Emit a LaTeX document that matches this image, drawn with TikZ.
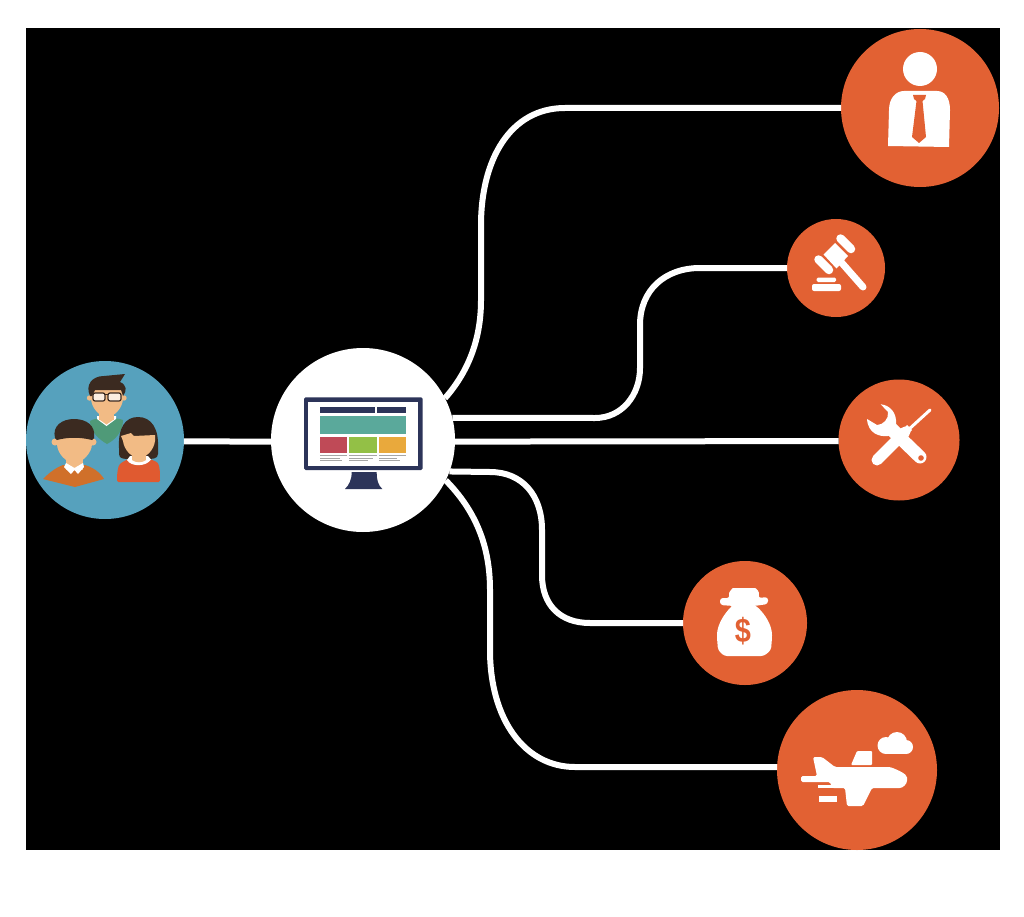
\documentclass[tikz,border=0pt]{standalone}
\usepackage{fontspec}
\setmainfont{Liberation Sans}
\definecolor{disc}{HTML}{E26133}
\definecolor{peoplebg}{HTML}{56A1BD}
\definecolor{skin}{HTML}{F2BB85}
\definecolor{hair}{HTML}{3B2A20}
\definecolor{shirtg}{HTML}{4F9A78}
\definecolor{shirto}{HTML}{D0702A}
\definecolor{shirtr}{HTML}{E05A30}
\definecolor{navy}{HTML}{2C3459}
\definecolor{teal2}{HTML}{5AA99B}
\definecolor{redb}{HTML}{BF4A57}
\definecolor{greenb}{HTML}{93C046}
\definecolor{yellb}{HTML}{E9A93C}
\tikzset{
  disk/.style={circle,inner sep=0pt,outer sep=0pt,fill=disc,minimum size=#1},
  link/.style={draw=white,line width=6pt,line join=round},
  ico/.style={fill=white,draw=none},
  stroke/.style={draw=white,line cap=round,line width=#1},
}
\begin{document}
\begin{tikzpicture}[x=1pt,y=-1pt]
\useasboundingbox (0,0) rectangle (1024,917);
\fill[white] (0,0) rectangle (1024,917);
\fill[black] (26,28) rectangle (1000,850);

% nodes
\node[disk=158pt,fill=peoplebg] (people) at (105,440) {};
\node[disk=184pt,fill=white] (hub) at (363,440) {};
\node[disk=158pt] (person) at (920,108) {};
\node[disk=98pt] (gavel) at (836,268) {};
\node[disk=121pt] (tools) at (899,440) {};
\node[disk=124pt] (money) at (745,623) {};
\node[disk=160pt] (plane) at (857,770) {};

% connectors
\draw[link] (people.-1.5) -- (hub.181.2);
\draw[link] (hub.27) .. controls (468,372) and (481,340) .. (481,300) -- (481,225)
  .. controls (481,160) and (510,108) .. (565,108) -- (person.west);
\draw[link] (hub.14) -- (595,418) .. controls (622,418) and (640,395) .. (640,368) -- (640,325)
  .. controls (640,290) and (665,268) .. (700,268) -- (gavel.west);
\draw[link] (hub.-1.2) -- (tools.181.9);
\draw[link] (hub.-20) -- (490,472) .. controls (522,472) and (542,495) .. (542,530) -- (542,575)
  .. controls (542,605) and (560,623) .. (590,623) -- (money.west);
\draw[link] (hub.-26) .. controls (475,510) and (490,545) .. (490,590) -- (490,650)
  .. controls (490,720) and (525,767) .. (575,767) -- (plane.178);

% people: man with glasses (back)
\fill[shirtg] (90,421) .. controls (96,417) and (116,417) .. (123,420) .. controls (123,432) and (115,440) .. (107,444) .. controls (100,440) and (90,432) .. (90,421) -- cycle;
\fill[white] (97,419) -- (106.5,426) -- (116,419) -- (116,416) -- (97,416) -- cycle;
\fill[skin] (99,408) rectangle (114,420);
\fill[skin] (100,420) -- (113,420) -- (106.5,424.5) -- cycle;
\fill[skin] (89.5,398) circle (2.7);
\fill[skin] (124,398) circle (2.7);
\fill[skin] (91,386) -- (123,386) -- (123,398) .. controls (123,408) and (114,417) .. (107,417) .. controls (100,417) and (91,408) .. (91,398) -- cycle;
\fill[hair] (90,396) .. controls (85,385) and (92,376) .. (104,376) -- (125,374) -- (120,382) .. controls (127,385) and (127,391) .. (123,396) -- (121,390) -- (95,390) -- (92,396) -- cycle;
\fill[white!75!skin,rounded corners=2pt] (93,393) rectangle (105,401);
\fill[white!75!skin,rounded corners=2pt] (108,393) rectangle (121,401);
\draw[hair,line width=1.2pt,rounded corners=2pt] (93,393) rectangle (105,401);
\draw[hair,line width=1.2pt,rounded corners=2pt] (108,393) rectangle (121,401);
\draw[hair,line width=1.2pt] (105,394.5) -- (108,394.5);

% people: man front left
\fill[shirto] (43,479) .. controls (52,470) and (58,467) .. (63,465) -- (85,465) .. controls (92,467) and (100,472) .. (104,479) -- (75,487) -- cycle;
\fill[skin] (66,455) rectangle (83,470);
\fill[white] (64,467) -- (66,463) -- (74.5,468) -- (83,463) -- (84,467) -- (78,474) -- (74.5,470) -- (71,474) -- cycle;
\fill[skin] (55,442) circle (3.5);
\fill[skin] (93,442) circle (3.5);
\fill[skin] (57,430) -- (92,430) -- (92,444) .. controls (92,453) and (82,463) .. (74.5,463) .. controls (66,463) and (57,453) .. (57,444) -- cycle;
\fill[hair] (55,438) .. controls (52,426) and (62,419) .. (74,419) .. controls (87,419) and (96,426) .. (94,438) -- (92,440) .. controls (80,437) and (68,437) .. (57,440) -- cycle;

% people: woman
\fill[hair] (119,448) .. controls (118,428) and (125,417) .. (138,417) .. controls (151,417) and (159,428) .. (158,448) -- (158,454) .. controls (158,459) and (152,459) .. (147,459) -- (130,459) .. controls (124,459) and (119,459) .. (119,454) -- cycle;
\fill[shirtr,rounded corners=1.5pt] (117,482) .. controls (117,472) and (118,466) .. (121,463) -- (128,459) -- (150,459) -- (157,462) .. controls (160,466) and (160,474) .. (160,482) -- cycle;
\fill[white] (127,460) .. controls (131,467) and (146,467) .. (151,459.5) -- (148,456) -- (130,456) -- cycle;
\fill[skin] (132,450) rectangle (146,460);
\fill[skin] (132,460) .. controls (136,463) and (142,463) .. (146,460) -- cycle;
\fill[skin] (121,436) -- (131,433) -- (134,436) -- (155,435) -- (155,441) .. controls (154,450) and (146,458) .. (139,458) .. controls (132,458) and (124,450) .. (123,441) -- cycle;

% monitor
\fill[navy,rounded corners=1.5pt] (304,397.3) rectangle (422.7,470);
\fill[white] (308.3,402.3) rectangle (418.3,465.7);
\fill[navy] (320,406.7) rectangle (375,412.7);
\fill[navy] (377.3,406.7) rectangle (406,412.7);
\fill[teal2] (320,415.7) rectangle (406,434.3);
\fill[redb] (320,436.7) rectangle (347,453.3);
\fill[greenb] (349.3,436.7) rectangle (376.7,453.3);
\fill[yellb] (379,436.7) rectangle (406,453.3);
\fill[gray!70] (320,455) rectangle (347,456.3);
\fill[gray!70] (349.3,455) rectangle (376.7,456.3);
\fill[gray!70] (379,455) rectangle (406,456.3);
\fill[gray!70] (320,457.8) rectangle (340,458.8);
\fill[gray!70] (349.3,457.8) rectangle (373,458.8);
\fill[gray!70] (379,457.8) rectangle (397,458.8);
\fill[gray!70] (320,460) rectangle (342,461);
\fill[gray!70] (349.3,460) rectangle (368,461);
\fill[gray!70] (379,460) rectangle (400,461);
\fill[navy] (351.7,472) -- (376.7,472) .. controls (376.7,480) and (378,485) .. (382.3,489) -- (345,489) .. controls (349,485) and (351.7,480) .. (351.7,472) -- cycle;

% person icon
\fill[ico] (920,69) circle (17);
\fill[ico] (888,146) -- (889,110) .. controls (889,98) and (896,91) .. (904,91) -- (937,91) .. controls (945,91) and (950,98) .. (950,110) -- (949,147) -- cycle;
\fill[disc] (913,95) -- (926,95) -- (925,99) -- (922.5,101) -- (926,137) -- (919,143) -- (912,137) -- (916.5,101) -- (914,99) -- cycle;

% gavel icon
\draw[stroke=7pt] (841,262) -- (863,287);
\fill[ico] (823.5,254.5) -- (835,243) -- (848,256) -- (836.5,268.5) -- cycle;
\draw[stroke=8.5pt] (818.5,259.5) -- (829,270);
\draw[stroke=8.5pt] (840.5,238.5) -- (851,249);
\fill[ico,rounded corners=2pt] (812,284) rectangle (841,291);
\fill[ico,rounded corners=1.5pt] (816.5,277.5) rectangle (836,282);

% tools icon
\draw[stroke=11pt] (877,460) -- (905,432);
\fill[ico] (907,425) -- (912,430) -- (907,435) -- (902,430) -- cycle;
\draw[stroke=3pt] (907,431) -- (930,410);
\draw[stroke=13pt] (890,428) -- (920,457);
\fill[ico] (880.7,404.3) .. controls (890,405) and (897,413) .. (896,424) -- (902,430) -- (888,436)
  .. controls (880,437) and (868,434) .. (867,419) -- (877,425)
  .. controls (883,425) and (889,419) .. (888,412) -- cycle;
\fill[disc] (921,458) circle (2.8);

% money icon
\fill[ico,rounded corners=3pt] (733,605) -- (755,605) .. controls (765,614) and (772,625) .. (772,638) -- (771,650) -- (764,656) -- (724,656) -- (718,650) -- (717,638) .. controls (717,625) and (724,614) .. (733,605) -- cycle;
\fill[ico,rounded corners=3pt] (730,598) .. controls (728,592) and (733,588) .. (736,588) -- (752,588) .. controls (756,588) and (760,592) .. (758,598) -- (768,597) -- (768,604) -- (754,606) -- (734,606) -- (720,605) -- (720,598) -- cycle;
\node[inner sep=0pt,text=disc,font=\bfseries\fontsize{34}{34}\selectfont] (dollar) at (743,631) {\scalebox{.85}[1]{\$}};

% plane icon
\fill[ico,rounded corners=1.5pt] (813,757) -- (822,757) -- (835,767) -- (890,767) .. controls (898,770) and (907,774) .. (907,779) .. controls (907,784) and (903,788) .. (898,788) -- (872,788) -- (863,806) -- (847,806) -- (845,788) -- (832,788) -- (830,782) -- (801,782) -- (801,776) -- (817,776) -- cycle;
\fill[ico,rounded corners=1pt] (851,765) -- (857,751) -- (872,751) -- (872,765) -- cycle;
\fill[ico] (818,785) rectangle (834,788);
\fill[ico] (819,796) rectangle (837,802);
\fill[ico] (886,745.5) circle (8.5);
\fill[ico] (897,742) circle (10);
\fill[ico] (906,747) circle (7);
\fill[ico] (886,745) rectangle (906,754);
\end{tikzpicture}
\end{document}
